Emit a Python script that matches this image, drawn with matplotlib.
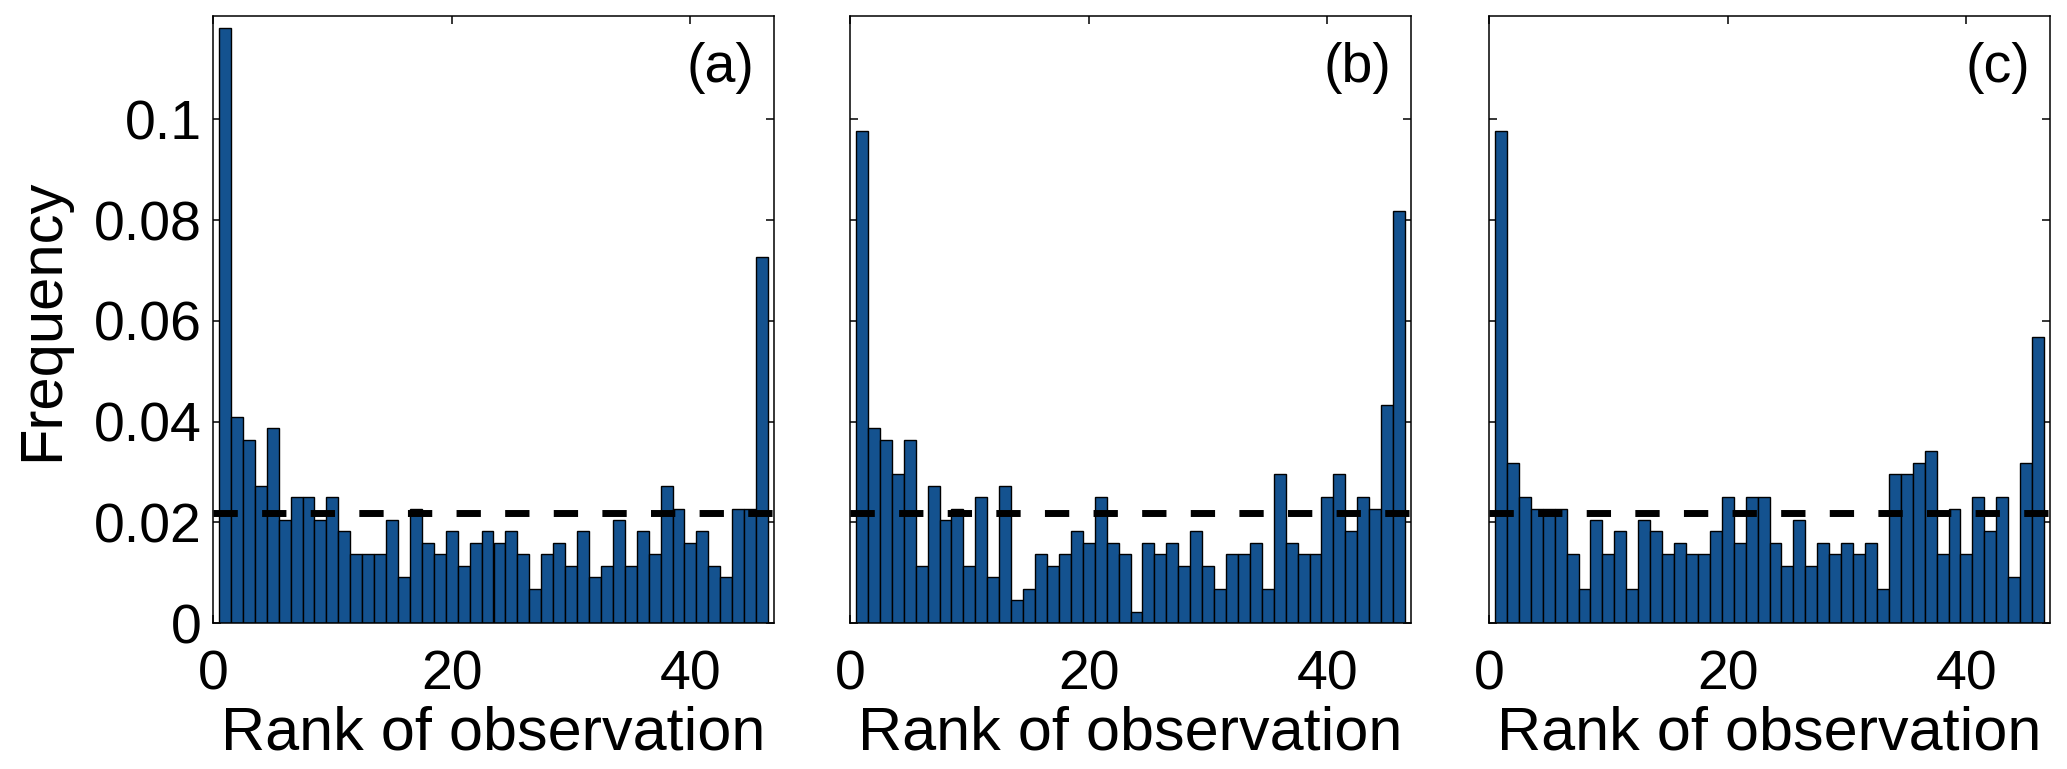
import matplotlib
matplotlib.use("Agg")
import matplotlib.pyplot as plt
import numpy as np

plt.rcParams['font.family'] = ['Liberation Sans', 'DejaVu Sans']

N_TOTAL = 440.0
ranks = list(range(1, 47))
counts_a = [52, 18, 16, 12, 17, 9, 11, 11, 9, 11, 8, 6, 6, 6, 9, 4, 10, 7, 6, 8, 5, 7, 8,
            7, 8, 6, 3, 6, 7, 5, 8, 4, 5, 9, 5, 8, 6, 12, 10, 7, 8, 5, 4, 10, 10, 32]
counts_b = [43, 17, 16, 13, 16, 5, 12, 9, 10, 5, 11, 4, 12, 2, 3, 6, 5, 6, 8, 7, 11, 7, 6,
            1, 7, 6, 7, 5, 8, 5, 3, 6, 6, 7, 3, 13, 7, 6, 6, 11, 13, 8, 11, 10, 19, 36]
counts_c = [43, 14, 11, 10, 10, 10, 6, 3, 9, 6, 8, 3, 9, 8, 6, 7, 6, 6, 8, 11, 7, 11, 11,
            7, 5, 9, 5, 7, 6, 7, 6, 7, 3, 13, 13, 14, 15, 6, 10, 6, 11, 8, 11, 4, 14, 25]
panel_labels = ['(a)', '(b)', '(c)']
uniform_level = 1.0 / 46
xticks = [0, 20, 40]
yticks = [0, 0.02, 0.04, 0.06, 0.08, 0.1]
ytick_labels = ['0', '0.02', '0.04', '0.06', '0.08', '0.1']

W, H = 2067, 769
fig = plt.figure(figsize=(W / 100, H / 100), dpi=100)
lefts = [213, 850, 1489]
ax_w = 561
bottom_px, top_px = 623, 16
bar_color = '#14528f'

for i, (counts, lab) in enumerate(zip([counts_a, counts_b, counts_c], panel_labels)):
    ax = fig.add_axes([lefts[i] / W, 1 - bottom_px / H, ax_w / W, (bottom_px - top_px) / H])
    freqs = np.array(counts) / N_TOTAL
    ax.bar(ranks, freqs, width=1.0, color=bar_color, edgecolor='black', linewidth=1.0, zorder=2)
    ax.axhline(uniform_level, color='black', lw=5, dashes=(3.5, 3.5), dash_capstyle='butt',
               zorder=3)
    ax.set_xlim(0, 47)
    ax.set_ylim(0, 0.1205)
    ax.set_xticks(xticks)
    ax.set_yticks(yticks)
    ax.tick_params(direction='in', length=6, width=1.1, top=True, right=True,
                   labelsize=40)
    ax.tick_params(axis='x', pad=19)
    ax.tick_params(axis='y', pad=8)
    if i == 0:
        ax.set_yticklabels(ytick_labels)
        ax.set_ylabel('Frequency', fontsize=43, labelpad=17)
    else:
        ax.set_yticklabels([])
    ax.set_xlabel('Rank of observation', fontsize=44, labelpad=3)
    for s in ax.spines.values():
        s.set_linewidth(1.1)
    ax.text(0.965, 0.915, lab, transform=ax.transAxes, ha='right', va='center', fontsize=40)

fig.savefig('out.png', dpi=100)
